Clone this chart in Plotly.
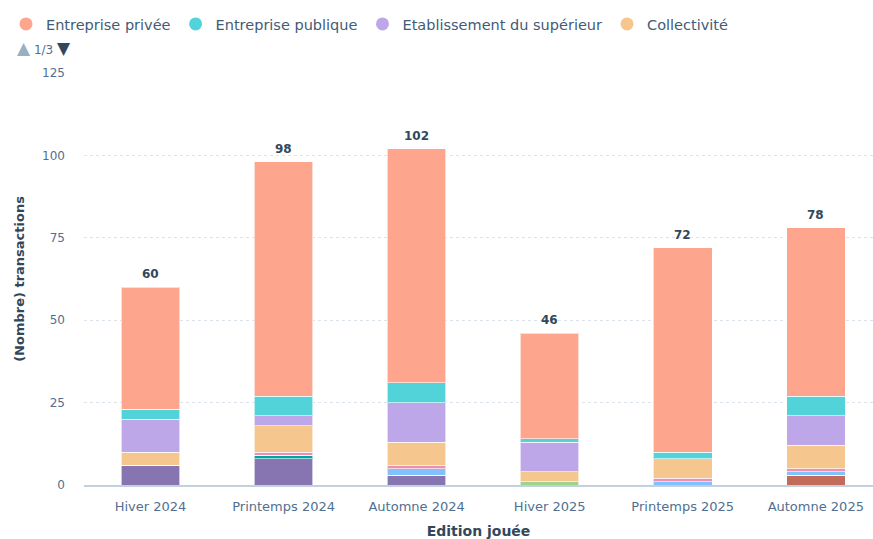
import plotly.graph_objects as go

categories = ["Hiver 2024", "Printemps 2024", "Automne 2024", "Hiver 2025", "Printemps 2025", "Automne 2025"]

# stacked from bottom to top
non_renseigne = [6, 8, 3, 0, 0, 0]
startup = [0, 0, 0, 0, 0, 3]
particulier = [0, 0, 0, 1, 0, 0]
organisme_formation = [0, 1, 0, 0, 0, 0]
etablissement_scolaire = [0, 0, 2, 0, 1, 1]
association = [0, 1, 1, 0, 1, 1]
collectivite = [4, 8, 7, 3, 6, 7]
etablissement_sup = [10, 3, 12, 9, 0, 9]
entreprise_publique = [3, 6, 6, 1, 2, 6]
entreprise_privee = [37, 71, 71, 32, 62, 51]

series = [
    ("Non renseigné", non_renseigne, "#8775b2"),
    ("Startup", startup, "#c26b5b"),
    ("Particulier", particulier, "#a2d28f"),
    ("Organisme de formation", organisme_formation, "#00a4a6"),
    ("Établissement scolaire", etablissement_scolaire, "#81c1fd"),
    ("Association", association, "#ea90b1"),
    ("Collectivité", collectivite, "#f5c78e"),
    ("Etablissement du supérieur", etablissement_sup, "#bda7e8"),
    ("Entreprise publique", entreprise_publique, "#51d3d9"),
    ("Entreprise privée", entreprise_privee, "#fea58e"),
]

legend_page1 = ["Entreprise privée", "Entreprise publique", "Etablissement du supérieur", "Collectivité"]

FONT = "DejaVu Sans"
TEXT = "#33475b"
TICK = "#516f90"

fig = go.Figure()
for name, vals, color in series:
    fig.add_trace(go.Bar(
        x=categories, y=vals, name=name,
        marker=dict(color=color, line=dict(color="rgba(255,255,255,0.6)", width=1)),
        showlegend=False, width=0.44,
    ))

colors = {n: c for n, _, c in series}
for i, name in enumerate(legend_page1):
    fig.add_trace(go.Scatter(x=[None], y=[None], mode="markers", name=name,
                             marker=dict(symbol="circle", size=13, color=colors[name]),
                             legendrank=i + 1, showlegend=True))

totals = [sum(s[1][i] for s in series) for i in range(len(categories))]
for c, t in zip(categories, totals):
    fig.add_annotation(x=c, y=t, text=f"<b>{t}</b>", showarrow=False, yanchor="bottom", yshift=4,
                       font=dict(family=FONT, size=12, color=TEXT))

fig.add_annotation(xref="paper", yref="paper", x=-84/789 + 15/789, y=(539 - 48 - 54) / 412,
                   xanchor="left", yanchor="middle", showarrow=False,
                   text="<span style='color:#99afc4;font-size:17px'>▲</span> <span style='font-size:12px'>1/3</span> <span style='color:#33475b;font-size:17px'>▼</span>",
                   font=dict(family=FONT, size=12, color=TICK))

fig.update_layout(
    width=873, height=539,
    margin=dict(l=84, r=0, t=73, b=54),
    barmode="stack",
    plot_bgcolor="white", paper_bgcolor="white",
    font=dict(family=FONT, size=12, color=TICK),
    legend=dict(orientation="h", x=-84/789 + 6/789, y=1 + 49/412, xanchor="left", yanchor="middle",
                font=dict(family=FONT, size=14.5, color="#425b76"), traceorder="normal",
                itemsizing="trace", bgcolor="rgba(0,0,0,0)"),
    xaxis=dict(range=[-0.5, 5.43], showgrid=False, showline=True, linecolor="#c3d1de", linewidth=2,
               ticks="", ticklabelstandoff=8, tickfont=dict(size=13, color=TICK),
               title=dict(text="<b>Edition jouée</b>", font=dict(size=14, color=TEXT), standoff=15)),
    yaxis=dict(range=[0, 125], tickvals=[0, 25, 50, 75, 100, 125], showgrid=True, gridcolor="#dde3ea",
               griddash="3px,3px", gridwidth=1, zeroline=False, ticks="", ticklabelstandoff=18,
               tickfont=dict(size=12, color=TICK),
               title=dict(text="<b>(Nombre) transactions</b>", font=dict(size=13, color=TEXT), standoff=14)),
)

fig.write_html("out.html")
